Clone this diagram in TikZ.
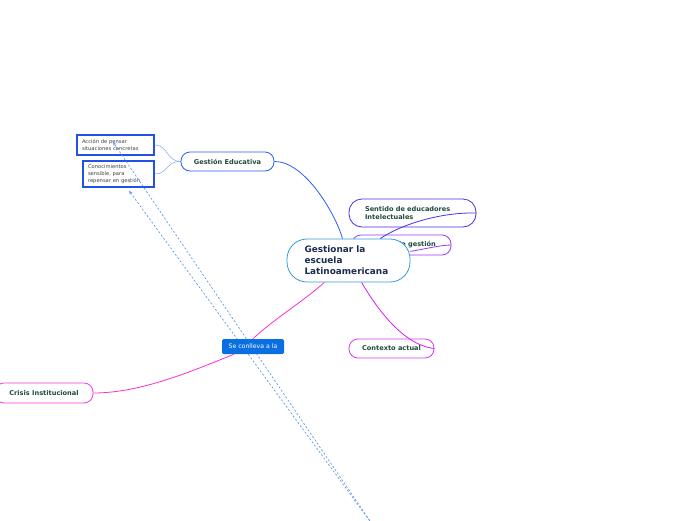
\documentclass[tikz,border=0pt]{standalone}
\usepackage{fontspec}
\setmainfont{DejaVu Sans}
\usetikzlibrary{arrows.meta,calc}
\definecolor{cbord}{HTML}{3A9AD9}
\definecolor{geblue}{HTML}{2B5BF5}
\definecolor{boxblue}{HTML}{2350E8}
\definecolor{thinblue}{HTML}{7FA8F0}
\definecolor{sentcol}{HTML}{4A2FE6}
\definecolor{modcol}{HTML}{9B3CF2}
\definecolor{ctxcol}{HTML}{D63CF2}
\definecolor{ctxline}{HTML}{D020F0}
\definecolor{pinkline}{HTML}{FF2ED0}
\definecolor{crcol}{HTML}{F03ADB}
\definecolor{scfill}{HTML}{0A6FE3}
\definecolor{dashcol}{HTML}{5A9BEA}
\definecolor{txtgreen}{HTML}{1F4A3C}
\definecolor{txtnavy}{HTML}{1C2B4F}
\pgfdeclarelayer{bg}
\pgfdeclarelayer{mid}
\pgfdeclarelayer{top}
\pgfsetlayers{bg,main,mid,top}
\tikzset{
  topic/.style={draw, fill=white, line width=0.8pt, rounded corners=9pt,
    font=\fontsize{6.6}{8.2}\selectfont\bfseries, text=txtgreen, inner sep=0pt},
  leafbox/.style={draw=boxblue, fill=white, line width=1.4pt, inner sep=0pt,
    font=\fontsize{5.2}{7}\selectfont, text=black!75, align=left},
  conn/.style={line width=0.8pt},
  dashconn/.style={draw=dashcol, line width=0.7pt, dash pattern=on 2pt off 2pt,
    -{Stealth[length=4pt,width=3.2pt]}}
}
\begin{document}
\begin{tikzpicture}[x=1pt,y=-1pt]
\useasboundingbox (0,0) rectangle (696,520);

\begin{pgfonlayer}{bg}
\fill[white] (0,0) rectangle (696,520);
\node[topic, draw=modcol, minimum width=99pt, minimum height=20pt] (mo) at (401.5,245) {Modelo de gestión};
\node[topic, draw=sentcol, minimum width=127pt, minimum height=28pt, rounded corners=13pt, text width=95pt, align=left] (se) at (412.5,213) {Sentido de educadores\\Intelectuales};
\node[topic, draw=ctxcol, minimum width=85pt, minimum height=19pt] (cx) at (391.5,348.5) {Contexto actual};
\node[topic, draw=crcol, minimum width=98pt, minimum height=20pt] (cr) at (44,393) {Crisis Institucional};
\end{pgfonlayer}

\begin{pgfonlayer}{mid}
\node[draw=cbord, fill=white, line width=0.8pt, rounded corners=20pt, minimum width=123pt, minimum height=43pt,
  text width=88pt, align=left, inner sep=0pt, font=\fontsize{8.9}{11}\selectfont\bfseries, text=txtnavy] (c) at (348.5,260.5)
  {Gestionar la\\escuela\\Latinoamericana};
\node[topic, draw=geblue, minimum width=93pt, minimum height=19pt] (ge) at (227.5,161.5) {Gestión Educativa};
\node[leafbox, minimum width=77pt, minimum height=20pt, text width=67pt] (ac) at (115.5,145) {Acción de pensar\\situaciones concretas};
\node[leafbox, minimum width=71pt, minimum height=26pt, text width=61pt] (co) at (118.5,174) {Conocimientos\\sensible, para\\repensar en gestión};
\end{pgfonlayer}

\begin{pgfonlayer}{top}
\node[fill=scfill, rounded corners=1.5pt, minimum width=62pt, minimum height=15pt, inner sep=0pt,
  font=\fontsize{6.2}{7}\selectfont, text=white] (sc) at (253,346.5) {Se conlleva a la};
\end{pgfonlayer}

\coordinate (d1) at (372,524);
\coordinate (d2) at (372,524);

% connectors
\draw[conn, geblue] (c) .. controls (336,215) and (305,161) .. (ge.east);
\draw[conn, sentcol] (c) .. controls (400,225) and (440,212) .. (se.east);
\draw[conn, modcol] (c) .. controls (420,250) and (440,245) .. (mo.east);
\draw[conn, ctxline] (c) .. controls (372,300) and (400,345) .. (cx.east);
\draw[conn, pinkline] (c) .. controls (305,300) and (270,322) .. (sc.north);
\draw[conn, pinkline] (sc) .. controls (190,372) and (140,393) .. (cr.east);
\draw[line width=0.5pt, thinblue] (ge.west) .. controls (166,161) and (168,145) .. (ac.east);
\draw[line width=0.5pt, thinblue] (ge.west) .. controls (166,161) and (168,174) .. (co.east);

\begin{pgfonlayer}{mid}
\draw[dashconn] (d1) -- ($(ac.center)+(-2.5,-3)$);
\draw[dashconn] (d2) -- ($(co.south)+(10.5,3)$);
\end{pgfonlayer}
\end{tikzpicture}
\end{document}
